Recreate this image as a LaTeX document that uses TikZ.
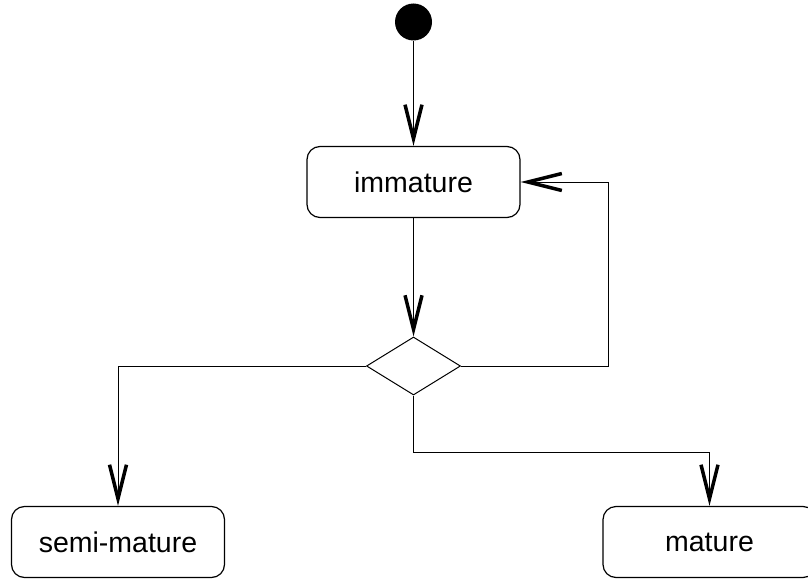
\documentclass[tikz,border=0pt]{standalone}
\usepackage{fontspec}
\setmainfont{Liberation Sans}
\usetikzlibrary{shapes.geometric,arrows.meta}
\begin{document}
\begin{tikzpicture}[x=1pt,y=-1pt,
  state/.style={draw, line width=1.2pt, rounded corners=13pt, minimum width=213pt, minimum height=71pt, inner sep=0pt, font=\fontsize{28.5}{34}\selectfont},
  conn/.style={line width=1pt},
  arr/.style={conn, -{Straight Barb[length=34pt,width=17pt,line width=3.5pt]}}
  ]
\clip (0,0) rectangle (808,578);
\node[circle, fill=black, minimum size=37pt, inner sep=0pt] (init) at (413.5,22) {};
\node[state] (immature) at (413.5,182) {immature};
\node[diamond, draw, line width=1pt, minimum width=94pt, minimum height=58pt, inner sep=0pt] (dec) at (413.5,366) {};
\node[state] (semi) at (118,542) {semi-mature};
\node[state] (mature) at (709.5,542) {mature};
\draw[arr] (init) -- (immature);
\draw[arr] (immature) -- (dec);
\draw[arr] (dec.east) -- ++(147.5,0) |- (immature.east);
\draw[arr] (dec.west) -| (semi.north);
\draw[arr] (dec.south) -- ++(0,57) -| (mature.north);
\end{tikzpicture}
\end{document}
